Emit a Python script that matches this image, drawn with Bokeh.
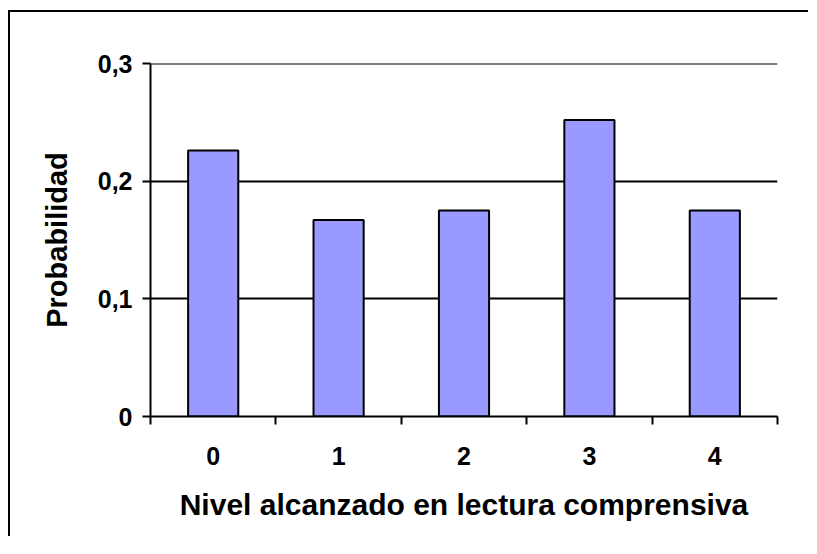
from bokeh.plotting import figure
from bokeh.models import ColumnDataSource, FixedTicker, Range1d, Span
from bokeh.embed import file_html
from bokeh.resources import INLINE

levels = ["0", "1", "2", "3", "4"]
probabilities = [0.226, 0.167, 0.175, 0.252, 0.175]
y_ticks = [0, 0.1, 0.2, 0.3]
y_tick_labels = ["0", "0,1", "0,2", "0,3"]

x_pos = list(range(len(levels)))
source = ColumnDataSource(dict(x=x_pos, top=probabilities))

FONT = "Liberation Sans"

p = figure(width=800, height=526, output_backend="svg", toolbar_location=None,
           x_range=Range1d(-0.5, len(levels) - 0.5), y_range=Range1d(0, 0.3),
           min_border_left=140, min_border_right=33, min_border_top=51, min_border_bottom=122)
p.outline_line_color = None
p.styles = {"margin-left": "10px", "margin-top": "12px",
            "box-shadow": "-2px -2px 0px 0px black"}

p.vbar(x="x", top="top", width=0.4, bottom=0, source=source,
       fill_color="#9999FF", line_color="black", line_width=2)

# x axis
p.xaxis.ticker = FixedTicker(ticks=x_pos, minor_ticks=[i - 0.5 for i in range(len(levels) + 1)])
p.xaxis.major_label_overrides = {i: lab for i, lab in zip(x_pos, levels)}
p.xaxis.major_tick_line_color = None
p.xaxis.major_tick_out = 0
p.xaxis.major_tick_in = 0
p.xaxis.minor_tick_line_color = "black"
p.xaxis.minor_tick_line_width = 2
p.xaxis.minor_tick_out = 8
p.xaxis.minor_tick_in = 0
p.xaxis.axis_line_width = 2
p.xaxis.axis_line_color = "black"
p.xaxis.major_label_text_font = FONT
p.xaxis.major_label_text_font_style = "bold"
p.xaxis.major_label_text_font_size = "25px"
p.xaxis.major_label_text_color = "black"
p.xaxis.major_label_standoff = 22
p.xaxis.axis_label = "Nivel alcanzado en lectura comprensiva"
p.xaxis.axis_label_text_font = FONT
p.xaxis.axis_label_text_font_style = "bold"
p.xaxis.axis_label_text_font_size = "30px"
p.xaxis.axis_label_text_color = "black"
p.xaxis.axis_label_standoff = 20

# y axis
p.yaxis.ticker = FixedTicker(ticks=y_ticks, minor_ticks=[])
p.yaxis.major_label_overrides = {t: lab for t, lab in zip(y_ticks, y_tick_labels)}
p.yaxis.major_tick_line_color = "black"
p.yaxis.major_tick_line_width = 2
p.yaxis.major_tick_out = 8
p.yaxis.major_tick_in = 0
p.yaxis.axis_line_width = 2
p.yaxis.axis_line_color = "black"
p.yaxis.major_label_text_font = FONT
p.yaxis.major_label_text_font_style = "bold"
p.yaxis.major_label_text_font_size = "25px"
p.yaxis.major_label_text_color = "black"
p.yaxis.major_label_standoff = 10
p.yaxis.axis_label = "Probabilidad"
p.yaxis.axis_label_text_font = FONT
p.yaxis.axis_label_text_font_style = "bold"
p.yaxis.axis_label_text_font_size = "29px"
p.yaxis.axis_label_text_color = "black"
p.yaxis.axis_label_standoff = 22

p.xgrid.grid_line_color = None
p.ygrid.grid_line_color = "black"
p.ygrid.grid_line_width = 2
p.add_layout(Span(location=y_ticks[-1], dimension="width", line_color="black", line_width=2))

open("out.html", "w").write(file_html(p, INLINE))
